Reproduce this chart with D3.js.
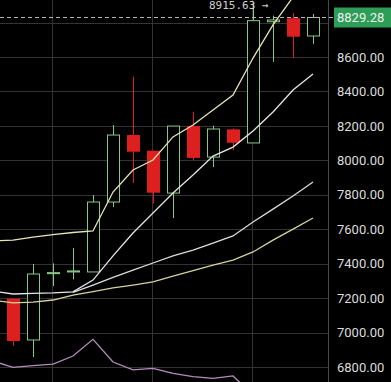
<!DOCTYPE html>
<html><head><meta charset="utf-8">
<script src="https://cdn.jsdelivr.net/npm/d3@7"></script>
<style>html,body{margin:0;padding:0;background:#000;overflow:hidden}</style>
</head><body><svg id="c" width="391" height="382"></svg>
<script>
// ---- data ----
const categories = ["d0","d1","d2","d3","d4","d5","d6","d7","d8","d9","d10","d11","d12","d13","d14","d15","d16"];
const openV  = [null, 7197, 6957, 7343, 7352, 7352, 7758, 8147, 8056, 7810, 8199, 8019, 8180, 8101, 8805, 8825, 8722];
const highV  = [null, 7197, 7398, 7402, 7491, 7799, 8205, 8486, 8056, 8200, 8282, 8201, 8185, 8915.63, 8840, 8856, 8850];
const lowV   = [null, 6922, 6858, 7270, 7309, 7352, 7729, 7868, 7750, 7665, 8002, 7961, 8060, 8101, 8572, 8594, 8676];
const closeV = [null, 6951, 7340, 7348, 7358, 7758, 8147, 8050, 7812, 8199, 8014, 8182, 8102, 8811, 8815, 8718, 8829.28];
const maFast   = [7533, 7537, 7554, 7569, 7581, 7590, 7816, 7944, 8002, 8136, 8205, 8292, 8379, 8594, 8786, 8948, 9030];
const maMid    = [7241, 7224, 7227, 7230, 7236, 7305, 7445, 7578, 7694, 7810, 7915, 8025, 8077, 8170, 8281, 8408, 8501];
const maSlow   = [null, null, null, null, 7233, 7276, 7320, 7363, 7404, 7445, 7479, 7520, 7561, 7642, 7717, 7793, 7874];
const maLong   = [7189, 7172, 7177, 7189, 7218, 7238, 7259, 7276, 7294, 7328, 7360, 7392, 7421, 7468, 7537, 7601, 7665];
const indicator = [6835, 6798, 6808, 6817, 6864, 6961, 6829, 6783, 6792, 6763, 6744, 6734, 6748, 6637, null, null, null];
const yTicks = [6800, 7000, 7200, 7400, 7600, 7800, 8000, 8200, 8400, 8600];
const yGrid  = [6800, 7000, 7200, 7400, 7600, 7800, 8000, 8200, 8400, 8600, 8800];
const xGridCats = ["d3", "d8", "d13"];
const lastPrice = 8829.28;
const maxPrice = 8915.63;
const maxCat = "d13";

// ---- layout ----
const W = 391, H = 382, plotRight = 328;
const svg = d3.select("#c");
svg.append("rect").attr("width", W).attr("height", H).attr("fill", "#000");

const x = d3.scalePoint().domain(categories).range([-7, 313]);
const y = d3.scaleLinear().domain([6713, 8931]).range([382, 0]);

const defs = svg.append("defs");
defs.append("clipPath").attr("id", "plot").append("rect").attr("x", 0).attr("y", 0).attr("width", plotRight).attr("height", H);

// grid
const grid = svg.append("g");
grid.selectAll(".hg").data(yGrid).join("line")
  .attr("x1", 0).attr("x2", plotRight)
  .attr("y1", d => Math.round(y(d)) + 0.5).attr("y2", d => Math.round(y(d)) + 0.5)
  .attr("stroke", "#333").attr("stroke-width", 1);
grid.selectAll(".vg").data(xGridCats).join("line")
  .attr("x1", d => Math.round(x(d)) - 0.5).attr("x2", d => Math.round(x(d)) - 0.5)
  .attr("y1", 0).attr("y2", H)
  .attr("stroke", "#333").attr("stroke-width", 1);

// axis separator
svg.append("line").attr("x1", plotRight + 0.5).attr("x2", plotRight + 0.5).attr("y1", 0).attr("y2", H)
  .attr("stroke", "#4a4a4a");

const plot = svg.append("g").attr("clip-path", "url(#plot)");

// candles
const candles = categories.map((c, i) => ({c, o: openV[i], h: highV[i], l: lowV[i], cl: closeV[i]})).filter(d => d.o != null);
const up = "#86c986", down = "#dd1f1f";
const bw = 12;
const cg = plot.append("g");
cg.selectAll(".wick").data(candles).join("line")
  .attr("x1", d => x(d.c) + 0.5).attr("x2", d => x(d.c) + 0.5)
  .attr("y1", d => y(d.h)).attr("y2", d => y(d.l))
  .attr("stroke", d => d.cl >= d.o ? up : down).attr("stroke-width", 1);
cg.selectAll(".body").data(candles).join("rect")
  .attr("x", d => d.cl >= d.o ? x(d.c) - bw / 2 + 0.5 : x(d.c) - bw / 2)
  .attr("width", d => d.cl >= d.o ? bw : bw + 1)
  .attr("y", d => y(Math.max(d.o, d.cl)))
  .attr("height", d => Math.max(1, Math.abs(y(d.o) - y(d.cl))))
  .attr("fill", d => d.cl >= d.o ? "#000" : down)
  .attr("stroke", d => d.cl >= d.o ? up : "none").attr("stroke-width", 1);

// moving averages
const lineGen = arr => d3.line().defined((d, i) => arr[i] != null)
  .x((d, i) => x(categories[i])).y((d, i) => y(arr[i]))(arr);
const series = [
  {v: maLong, color: "#d6d29c"},
  {v: maSlow, color: "#dcdcdc"},
  {v: maMid, color: "#e6e6e6"},
  {v: maFast, color: "#e8e4b4"},
  {v: indicator, color: "#b78bc0"}
];
plot.selectAll(".ma").data(series).join("path")
  .attr("d", d => lineGen(d.v)).attr("fill", "none")
  .attr("stroke", d => d.color).attr("stroke-width", 1.3);

// last price dashed line
svg.append("line").attr("x1", 0).attr("x2", 334)
  .attr("y1", y(lastPrice)).attr("y2", y(lastPrice))
  .attr("stroke", "#bbb").attr("stroke-width", 1).attr("stroke-dasharray", "4,3");

// max annotation
svg.append("text").attr("x", x(maxCat) - 44).attr("y", 9)
  .attr("font-family", "DejaVu Sans Mono, monospace").attr("font-size", 11)
  .attr("fill", "#cfcfcf").text(maxPrice.toFixed(2) + " →");

// right axis labels
svg.selectAll(".yl").data(yTicks).join("text")
  .attr("x", 337).attr("y", d => y(d)).attr("dy", "0.36em")
  .attr("font-family", "Roboto, sans-serif").attr("font-size", 13)
  .attr("fill", "#dcdcdc").text(d => d.toFixed(2));

// last price label
const ly = y(lastPrice);
svg.append("rect").attr("x", 334).attr("y", ly - 10).attr("width", 57).attr("height", 20).attr("fill", "#2e9d57");
svg.append("text").attr("x", 337).attr("y", ly).attr("dy", "0.36em")
  .attr("font-family", "Roboto, sans-serif").attr("font-size", 13)
  .attr("fill", "#f0f0f0").text(lastPrice.toFixed(2));
</script></body></html>
